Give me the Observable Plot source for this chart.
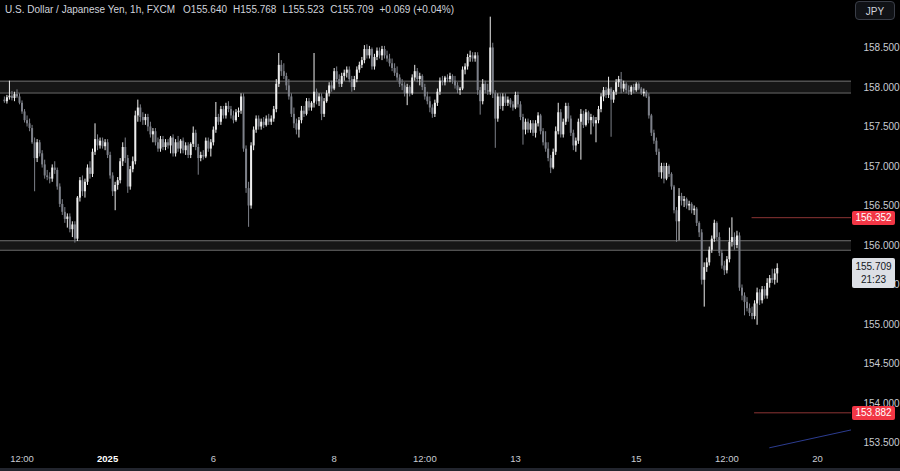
<!DOCTYPE html>
<html><head><meta charset="utf-8">
<script src="https://cdn.jsdelivr.net/npm/d3@7"></script>
<script src="https://cdn.jsdelivr.net/npm/@observablehq/plot@0.6"></script>
<style>
html,body{margin:0;padding:0;background:#000;}
#wrap{position:relative;width:900px;height:471px;overflow:hidden;background:#000;font-family:"Liberation Sans",Arial,sans-serif;}
#title{position:absolute;left:5px;top:4px;font-size:10px;color:#d1d4dc;white-space:nowrap;}
#title span{margin-left:6px;}
.tag{position:absolute;left:852px;width:43px;font-size:10px;text-align:center;border-radius:2px;}
#jpy{position:absolute;left:855px;top:1px;width:40px;height:19px;border:1px solid #3a3e48;border-radius:4px;background:#101216;color:#d1d4dc;font-size:10px;line-height:19px;text-align:center;box-sizing:border-box;}
#bstrip{position:absolute;left:0;top:468px;width:900px;height:3px;background:#22252e;}
</style></head><body><div id="wrap"></div><script>
// hourly OHLC, USD/JPY (FXCM)
const open=[157.84,157.82,157.87,157.89,157.86,157.91,157.88,157.80,157.69,157.58,157.54,
157.48,157.30,157.10,157.30,157.16,157.02,156.88,156.86,156.84,156.98,
156.95,156.74,156.52,156.42,156.33,156.36,156.20,156.26,156.08,156.60,
156.82,156.68,156.80,156.98,156.90,157.18,157.34,157.26,157.32,157.25,
157.30,157.14,156.88,156.68,156.76,156.82,157.06,157.24,157.10,156.74,
156.96,157.06,157.64,157.74,157.62,157.58,157.62,157.50,157.40,157.44,
157.30,157.22,157.34,157.24,157.30,157.26,157.36,157.16,157.30,157.22,
157.32,157.20,157.26,157.14,157.28,157.42,157.24,157.10,157.14,157.12,
157.32,157.22,157.30,157.46,157.62,157.56,157.72,157.64,157.76,157.72,
157.64,157.58,157.68,157.70,157.88,157.22,156.72,156.50,157.26,157.46,
157.60,157.50,157.56,157.52,157.60,157.56,157.60,157.72,158.04,158.28,
158.20,158.14,158.02,157.88,157.66,157.54,157.46,157.58,157.70,157.66,
157.82,157.74,157.80,157.94,157.82,157.88,157.66,157.82,157.92,158.02,
157.98,158.20,158.10,158.04,158.14,158.18,158.22,158.10,158.00,158.10,
158.22,158.28,158.34,158.48,158.40,158.48,158.26,158.38,158.46,158.40,
158.48,158.40,158.36,158.30,158.24,158.18,158.12,158.04,158.02,157.92,
158.00,157.92,158.12,158.20,158.10,158.14,158.00,157.88,157.82,157.74,
157.66,157.80,157.94,158.08,158.06,158.12,158.10,158.14,158.08,158.02,
157.96,157.98,158.22,158.26,158.38,158.40,158.36,158.40,157.96,157.82,
158.04,157.96,157.94,158.50,157.92,157.60,157.88,157.76,157.88,157.80,
157.84,157.78,157.74,157.90,157.78,157.62,157.46,157.56,157.46,157.54,
157.42,157.54,157.64,157.44,157.30,157.22,157.10,156.98,157.18,157.44,
157.68,157.40,157.56,157.76,157.60,157.42,157.26,157.32,157.56,157.66,
157.52,157.68,157.58,157.62,157.54,157.58,157.72,157.88,157.96,157.90,
157.98,157.84,157.94,158.06,158.10,157.98,158.04,157.96,157.94,158.00,
157.96,158.04,157.98,157.92,157.94,157.88,157.64,157.42,157.32,157.18,
156.92,157.00,156.84,157.00,156.90,156.74,156.44,156.30,156.62,156.56,
156.58,156.50,156.52,156.44,156.46,156.28,156.16,155.56,155.72,155.78,
155.94,156.08,156.28,156.10,155.90,155.74,155.68,155.82,156.04,156.10,
156.00,156.12,155.46,155.36,155.28,155.20,155.14,155.10,155.26,155.40,
155.30,155.44,155.36,155.52,155.58,155.56,155.640];
const high=[157.88,157.90,158.08,157.95,157.94,157.97,157.92,157.83,157.72,157.64,157.60,
157.52,157.36,157.34,157.33,157.20,157.08,156.95,156.92,157.02,157.06,
156.98,156.78,156.58,156.48,156.40,156.40,156.30,156.30,156.62,156.86,
156.88,156.84,157.02,157.06,157.22,157.54,157.40,157.36,157.36,157.34,
157.34,157.18,156.92,156.80,156.86,157.10,157.30,157.36,157.14,157.00,
157.12,157.70,157.84,157.78,157.68,157.66,157.66,157.56,157.48,157.48,
157.36,157.38,157.38,157.34,157.34,157.38,157.40,157.34,157.38,157.34,
157.36,157.30,157.30,157.30,157.50,157.46,157.28,157.18,157.20,157.36,
157.36,157.34,157.50,157.81,157.66,157.76,157.76,157.80,157.82,157.76,
157.70,157.72,157.74,157.92,157.92,157.26,156.80,157.30,157.50,157.64,
157.64,157.60,157.62,157.64,157.66,157.64,157.76,158.10,158.43,158.34,
158.30,158.18,158.10,157.92,157.74,157.60,157.62,157.76,157.76,157.86,
157.86,157.82,158.43,157.98,157.92,157.92,157.86,157.96,158.06,158.08,
158.24,158.26,158.16,158.18,158.22,158.26,158.26,158.14,158.14,158.26,
158.32,158.38,158.53,158.54,158.52,158.50,158.42,158.50,158.50,158.52,
158.52,158.46,158.42,158.36,158.30,158.26,158.16,158.10,158.06,158.04,
158.02,158.16,158.28,158.24,158.18,158.16,158.04,157.94,157.88,157.78,
157.84,157.98,158.12,158.14,158.14,158.16,158.18,158.16,158.14,158.06,
158.00,158.26,158.30,158.42,158.46,158.44,158.44,158.44,158.00,158.10,
158.08,158.04,158.89,158.56,157.96,157.92,157.92,157.92,157.92,157.88,
157.86,157.82,157.94,157.94,157.82,157.66,157.60,157.60,157.58,157.58,
157.58,157.68,157.66,157.48,157.44,157.30,157.14,157.22,157.50,157.80,
157.72,157.60,157.80,157.80,157.64,157.46,157.36,157.60,157.72,157.70,
157.72,157.70,157.66,157.64,157.62,157.76,157.92,158.00,158.00,158.13,
158.00,157.96,158.10,158.14,158.19,158.08,158.06,158.02,158.02,158.04,
158.06,158.06,158.00,157.98,157.96,157.92,157.66,157.46,157.36,157.22,
157.04,157.04,157.04,157.02,156.92,156.76,156.48,156.72,156.66,156.62,
156.60,156.56,156.54,156.50,156.48,156.30,156.20,155.78,155.84,155.98,
156.12,156.32,156.30,156.16,155.94,155.80,155.86,156.22,156.35,156.16,
156.18,156.16,155.50,155.40,155.34,155.26,155.22,155.30,155.46,155.44,
155.48,155.48,155.58,155.62,155.70,155.70,155.768];
const low=[157.80,157.79,157.84,157.83,157.82,157.86,157.78,157.66,157.55,157.50,157.44,
157.28,156.68,157.05,157.12,156.98,156.84,156.82,156.78,156.80,156.90,
156.70,156.48,156.38,156.28,156.22,156.16,156.10,156.03,156.05,156.55,
156.62,156.60,156.76,156.84,156.86,157.14,157.20,157.22,157.22,157.20,
157.10,156.84,156.62,156.44,156.70,156.78,157.00,157.04,156.66,156.70,
156.92,157.02,157.56,157.56,157.52,157.52,157.44,157.36,157.30,157.26,
157.18,157.18,157.20,157.20,157.22,157.16,157.12,157.12,157.18,157.16,
157.16,157.14,157.10,157.10,157.24,157.20,156.89,157.06,157.08,157.10,
157.18,157.12,157.26,157.42,157.52,157.52,157.60,157.60,157.68,157.60,
157.54,157.56,157.62,157.66,157.18,156.66,156.23,156.46,157.20,157.42,
157.46,157.46,157.48,157.50,157.52,157.52,157.56,157.68,158.00,158.14,
158.10,157.96,157.84,157.62,157.48,157.40,157.36,157.54,157.62,157.64,
157.70,157.70,157.74,157.78,157.76,157.58,157.62,157.80,157.88,157.94,
157.96,158.06,158.00,158.00,158.08,158.12,158.06,157.94,157.96,158.06,
158.18,158.24,158.30,158.36,158.36,158.22,158.22,158.34,158.36,158.34,
158.36,158.32,158.26,158.20,158.14,158.08,158.00,157.96,157.88,157.77,
157.88,157.90,158.08,158.06,158.02,157.96,157.84,157.78,157.68,157.61,
157.62,157.76,157.90,158.02,158.02,158.06,158.06,158.04,157.98,157.92,
157.90,157.96,158.16,158.22,158.32,158.32,158.32,157.90,157.65,157.78,
157.92,157.90,157.90,157.86,157.23,157.56,157.72,157.70,157.76,157.76,
157.74,157.70,157.72,157.74,157.58,157.27,157.40,157.42,157.42,157.38,
157.36,157.50,157.40,157.26,157.18,157.06,156.91,156.96,157.14,157.40,
157.36,157.36,157.52,157.56,157.38,157.20,157.18,157.28,157.08,157.48,
157.50,157.54,157.40,157.50,157.30,157.54,157.68,157.82,157.86,157.86,
157.37,157.80,157.90,158.00,157.92,157.94,157.92,157.90,157.90,157.92,
157.94,157.96,157.90,157.88,157.86,157.60,157.38,157.28,157.14,156.86,
156.84,156.78,156.82,156.86,156.70,156.40,156.04,156.06,156.50,156.48,
156.46,156.44,156.40,156.38,156.24,156.10,155.50,155.22,155.66,155.74,
155.90,156.04,156.06,155.86,155.70,155.62,155.64,155.78,155.98,155.94,
155.96,155.42,155.30,155.11,155.16,155.10,155.06,155.06,154.99,155.24,
155.26,155.32,155.32,155.46,155.52,155.50,155.523];
const close=[157.82,157.87,157.89,157.86,157.91,157.88,157.80,157.69,157.58,157.54,157.48,
157.30,157.10,157.30,157.16,157.02,156.88,156.86,156.84,156.98,156.95,
156.74,156.52,156.42,156.33,156.36,156.20,156.26,156.08,156.60,156.82,
156.68,156.80,156.98,156.90,157.18,157.34,157.26,157.32,157.25,157.30,
157.14,156.88,156.68,156.76,156.82,157.06,157.24,157.10,156.74,156.96,
157.06,157.64,157.74,157.62,157.58,157.62,157.50,157.40,157.44,157.30,
157.22,157.34,157.24,157.30,157.26,157.36,157.16,157.30,157.22,157.32,
157.20,157.26,157.14,157.28,157.42,157.24,157.10,157.14,157.12,157.32,
157.22,157.30,157.46,157.62,157.56,157.72,157.64,157.76,157.72,157.64,
157.58,157.68,157.70,157.88,157.22,156.72,156.50,157.26,157.46,157.60,
157.50,157.56,157.52,157.60,157.56,157.60,157.72,158.04,158.28,158.20,
158.14,158.02,157.88,157.66,157.54,157.46,157.58,157.70,157.66,157.82,
157.74,157.80,157.94,157.82,157.88,157.66,157.82,157.92,158.02,157.98,
158.20,158.10,158.04,158.14,158.18,158.22,158.10,158.00,158.10,158.22,
158.28,158.34,158.48,158.40,158.48,158.26,158.38,158.46,158.40,158.48,
158.40,158.36,158.30,158.24,158.18,158.12,158.04,158.02,157.92,158.00,
157.92,158.12,158.20,158.10,158.14,158.00,157.88,157.82,157.74,157.66,
157.80,157.94,158.08,158.06,158.12,158.10,158.14,158.08,158.02,157.96,
157.98,158.22,158.26,158.38,158.40,158.36,158.40,157.96,157.82,158.04,
157.96,157.94,158.50,157.92,157.60,157.88,157.76,157.88,157.80,157.84,
157.78,157.74,157.90,157.78,157.62,157.46,157.56,157.46,157.54,157.42,
157.54,157.64,157.44,157.30,157.22,157.10,156.98,157.18,157.44,157.68,
157.40,157.56,157.76,157.60,157.42,157.26,157.32,157.56,157.66,157.52,
157.68,157.58,157.62,157.54,157.58,157.72,157.88,157.96,157.90,157.98,
157.84,157.94,158.06,158.10,157.98,158.04,157.96,157.94,158.00,157.96,
158.04,157.98,157.92,157.94,157.88,157.64,157.42,157.32,157.18,156.92,
157.00,156.84,157.00,156.90,156.74,156.44,156.30,156.62,156.56,156.58,
156.50,156.52,156.44,156.46,156.28,156.16,155.56,155.72,155.78,155.94,
156.08,156.28,156.10,155.90,155.74,155.68,155.82,156.04,156.10,156.00,
156.12,155.46,155.36,155.28,155.20,155.14,155.10,155.26,155.40,155.30,
155.44,155.36,155.52,155.58,155.56,155.64,155.709];

// time axis labels (bar index of each label)
const tickBars=[7,41,83,131,167,203,251,287,323];
const tickLabels=["12:00","2025","6","8","12:00","13","15","12:00","20"];
// price axis ticks
const priceTicks=[153.5,154,154.5,155,155.5,156,156.5,157,157.5,158,158.5];
// support/resistance zones
const zoneLow=[157.93,155.94];
const zoneHigh=[158.08,156.06];
// horizontal levels (red) and the bar where each starts
const levelPrice=[156.352,153.882];
const levelStart=[297,298];
// trendline (blue): bar index and price of its two points
const trendBar=[304,337];
const trendPrice=[153.44,153.67];
// header values
const lastOpen=155.640, lastHigh=155.768, lastLow=155.523, lastClose=155.709;
const change="+0.069 (+0.04%)";
const countdown="21:23";

const N=close.length;
const idx=d3.range(N);
const xDom=[-1.55,336.5];
const up=i=>close[i]>=open[i];
const colUp="#eeeeee", colDn="#7d8089";

const chart=Plot.plot({
  width:900,height:471,
  marginLeft:0,marginRight:49,marginTop:0,marginBottom:21,
  style:{background:"#000",color:"#c9ccd3",fontFamily:"'Liberation Sans',Arial,sans-serif",fontSize:"10px"},
  x:{domain:xDom,axis:null},
  y:{domain:[153.405,159.101],axis:null},
  marks:[
    Plot.rect(d3.range(zoneLow.length),{x1:()=>xDom[0],x2:()=>xDom[1],y1:i=>zoneLow[i],y2:i=>zoneHigh[i],fill:"#161616"}),
    Plot.ruleY([...zoneLow,...zoneHigh],{stroke:"#6f6f6f",strokeWidth:1}),
    Plot.ruleY(d3.range(levelPrice.length),{y:i=>levelPrice[i],x1:i=>levelStart[i],x2:()=>xDom[1],stroke:"#8c3535",strokeWidth:1}),
    Plot.line(d3.range(trendBar.length),{x:i=>trendBar[i],y:i=>trendPrice[i],stroke:"#2c3c90",strokeWidth:1,clip:true}),
    Plot.ruleX(idx,{x:i=>i,y1:i=>low[i],y2:i=>high[i],stroke:i=>up(i)?colUp:colDn,strokeWidth:1}),
    Plot.ruleX(idx,{x:i=>i,y1:i=>open[i],y2:i=>close[i],stroke:i=>up(i)?colUp:colDn,strokeWidth:2}),
    Plot.axisY({anchor:"right",ticks:priceTicks,tickFormat:d3.format(".3f"),tickSize:0,tickPadding:12}),
    Plot.axisX({anchor:"bottom",ticks:tickBars,tickFormat:d=>tickLabels[tickBars.indexOf(d)],tickSize:0,tickPadding:5,fontSize:9.5})
  ]
});
const wrap=document.getElementById("wrap");
wrap.appendChild(chart);
chart.style.position="absolute";chart.style.left="0";chart.style.top="0";
// bold year label
d3.select(chart).selectAll("text").filter(function(){return this.textContent==="2025";}).attr("font-weight","bold").attr("fill","#ffffff");

const ys=chart.scale("y");
const fmt=d3.format(".3f");
function addDiv(html,cls,css){const d=document.createElement("div");if(cls)d.className=cls;d.innerHTML=html;Object.assign(d.style,css);wrap.appendChild(d);return d;}
// header
addDiv(`U.S. Dollar / Japanese Yen, 1h, FXCM<span style="margin-left:8px">O${fmt(lastOpen)}</span><span>H${fmt(lastHigh)}</span><span>L${fmt(lastLow)}</span><span>C${fmt(lastClose)}</span><span>${change}</span>`,null,{}).id="title";
// level tags
levelPrice.forEach(p=>{const y=ys.apply(p);addDiv(fmt(p),"tag",{top:(y-6)+"px",height:"14px",lineHeight:"14px",background:"#f23645",color:"#fff"});});
// last price tag
{const y=ys.apply(lastClose);addDiv(`${fmt(lastClose)}<br>${countdown}`,"tag",{top:(y-10)+"px",height:"30px",lineHeight:"13px",paddingTop:"2px",boxSizing:"border-box",background:"#dcdfe5",color:"#131722"});}
addDiv("JPY",null,{}).id="jpy";
addDiv("",null,{}).id="bstrip";
</script></body></html>
